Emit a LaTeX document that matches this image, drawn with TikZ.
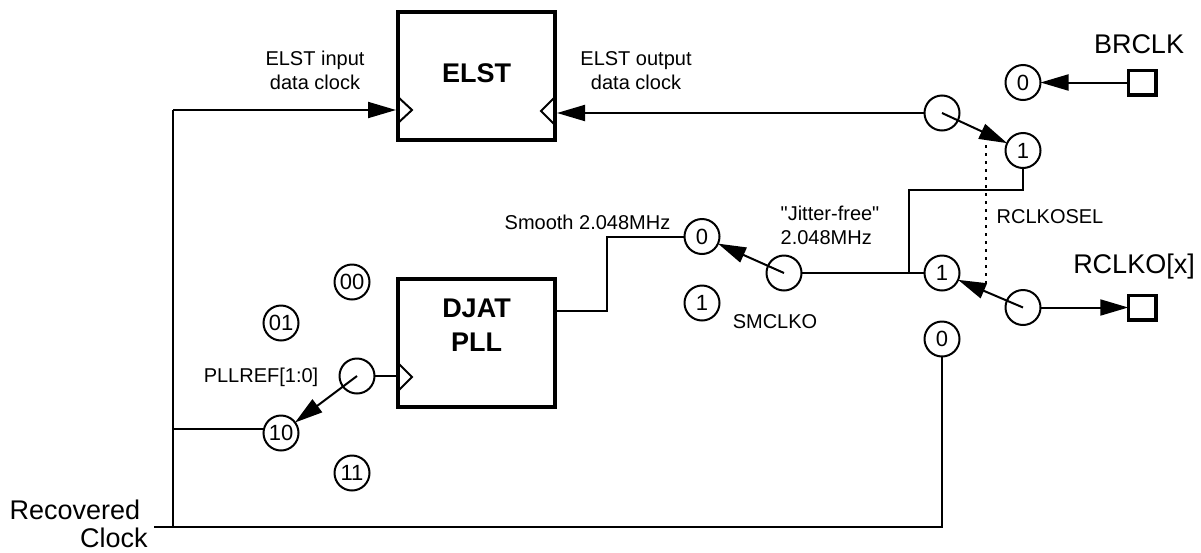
\documentclass[tikz,border=0pt]{standalone}
\usepackage{fontspec}
\setmainfont{Liberation Sans}
\newfontfamily\plainquote{Liberation Sans}
\usepackage{xcolor}
\usetikzlibrary{arrows.meta,positioning}

\begin{document}
\begin{tikzpicture}[
    x=1pt, y=-1pt,
    block/.style={rectangle, draw, line width=4pt, minimum width=157pt, minimum height=128pt, outer sep=0pt, align=center, font=\fontsize{27}{34}\selectfont\bfseries},
    pin/.style={rectangle, draw, line width=3.5pt, minimum width=27.5pt, minimum height=24.5pt, outer sep=0pt},
    port/.style={circle, draw, line width=2pt, minimum size=35pt, inner sep=0pt, outer sep=0pt, font=\fontsize{22}{26}\selectfont},
    note/.style={inner sep=0pt, align=center, font=\fontsize{20}{24}\selectfont},
    biglabel/.style={inner sep=0pt, font=\fontsize{27}{32}\selectfont},
    line/.style={draw, line width=2pt},
    >={Triangle[length=28pt,width=16pt]}
]
\useasboundingbox (0,0) rectangle (1201,552);

% Blocks
\node[block, text depth=6pt] (elst) at (476.5,76) {ELST};
\node[block, below=139pt of elst] (djat) {};
\node[note, font=\fontsize{27}{34}\selectfont\bfseries] (djatlabel) at (476.5,325) {DJAT\\PLL};

% Output pins
\node[pin] (brclk) at (1142,82.5) {};
\node[pin, below=200.5pt of brclk] (rclko) {};

% Ports on the right
\node[port] (brzero) at (1023,82.5) {0};
\node[port, below=33pt of brzero] (brone) {1};
\node[port] (elstsel) at (942,113) {};
\node[port] (rclkosel) at (1023,307.5) {};
\node[port] (rcone) at (942,273) {1};
\node[port, below=31pt of rcone] (rczero) {0};

% Ports in the middle
\node[port] (smzero) at (702,236.5) {0};
\node[port, below=31.5pt of smzero] (smone) {1};
\node[port] (smsel) at (784,273) {};

% Ports on the left
\node[port] (refzero) at (352,282) {00};
\node[port] (refone) at (281,323) {01};
\node[port] (reften) at (281,433) {10};
\node[port] (refeleven) at (352,473) {11};
\node[port] (refsel) at (357,376) {};

% Wire corners
\coordinate (inbus) at (173,110);
\coordinate (tenbus) at (173,429);
\coordinate (botbus) at (173,527);
\coordinate (rcstub) at (154,527);
\coordinate (elstin) at (396,110);
\coordinate (elstout) at (557,113);
\coordinate (djatin) at (396,376);
\coordinate (djatout) at (554,311);
\coordinate (smbend) at (607,311);
\coordinate (jitter) at (909,190);
\coordinate (jitterbot) at (909,273);
\coordinate (seltop) at (986,137);
\coordinate (selbot) at (986,287);

% Clock markers
\draw[line] (398,97) -- (412,110) -- (398,123);
\draw[line] (555,97) -- (541,111) -- (555,125);
\draw[line] (398,363) -- (412,377) -- (398,391);

% Connections
\path[line,->] (inbus) -- (elstin);
\path[line] (inbus) -- (botbus);
\path[line] (rcstub) -- (botbus) -| (rczero);
\path[line] (tenbus) -- (tenbus -| reften.west);
\path[line] (refsel) -- (djatin);
\path[line,->] (refsel.center) -- (reften);
\path[line,->] (elstsel) -- (elstout);
\path[line,->] (elstsel.center) -- (brone);
\path[line,->] (brclk) -- (brzero);
\path[line] (brone) |- (jitter) -- (jitterbot);
\path[line] (smsel) -- (rcone);
\path[line,->] (rclkosel.center) -- (rcone);
\path[line,->] (rclkosel) -- (rclko);
\path[line,->] (smsel.center) -- (smzero);
\path[line] (djatout) -- (smbend) |- (smzero);
\draw[line width=2pt, dash pattern=on 3pt off 5pt] (seltop) -- (selbot);

% Labels
\node[note] (inlabel) at (315,70.5) {ELST input\\data clock};
\node[note] (outlabel) at (636,70.5) {ELST output\\data clock};
\node[note] (smoothlabel) at (587.5,222) {Smooth 2.048MHz};
\node[note, align=left] (jitterlabel) at (830,225.5) {{\plainquote"Jitter-free"}\\2.048MHz};
\node[note] (smlabel) at (775,322) {SMCLKO};
\node[note] (sellabel) at (1050,217) {RCLKOSEL};
\node[note] (reflabel) at (261,377) {PLLREF[1:0]};
\node[biglabel] (brlabel) at (1139,44) {BRCLK};
\node[biglabel] (rclabel) at (1134,267) {RCLKO[x]};
\node[biglabel] (reclabel) at (75,510) {Recovered};
\node[biglabel] (clklabel) at (114,538) {Clock};

\end{tikzpicture}
\end{document}
